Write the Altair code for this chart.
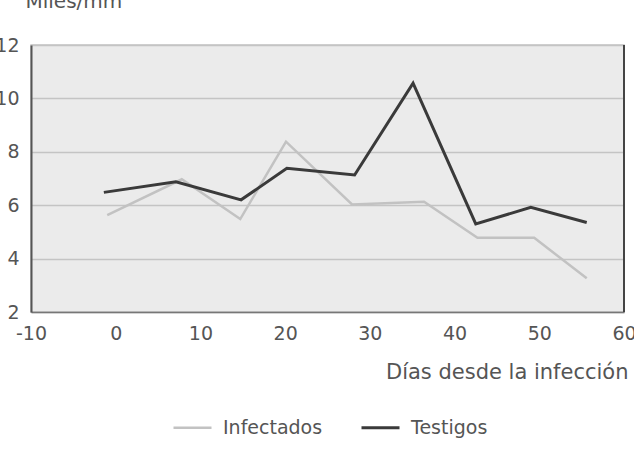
import altair as alt
import pandas as pd

series_names = ["Infectados", "Testigos"]
infectados_dias = [-1.0, 7.8, 14.7, 20.1, 27.9, 36.4, 42.7, 49.4, 55.6]
infectados_vals = [5.63, 6.97, 5.48, 8.38, 6.03, 6.13, 4.78, 4.78, 3.26]
testigos_dias = [-1.4, 7.1, 14.8, 20.2, 28.2, 35.1, 42.5, 49.0, 55.6]
testigos_vals = [6.48, 6.88, 6.20, 7.38, 7.13, 10.57, 5.30, 5.92, 5.35]
x_ticks = [-10, 0, 10, 20, 30, 40, 50, 60]
y_ticks = [2, 4, 6, 8, 10, 12]

rows = []
for d, v in zip(infectados_dias, infectados_vals):
    rows.append({"dia": d, "valor": v, "serie": series_names[0]})
for d, v in zip(testigos_dias, testigos_vals):
    rows.append({"dia": d, "valor": v, "serie": series_names[1]})
df = pd.DataFrame(rows)

FONT = "DejaVu Sans"
TXT = "#555555"

lines = alt.Chart(df).mark_line(strokeJoin="miter").encode(
    x=alt.X("dia:Q",
            scale=alt.Scale(domain=[-10, 60], nice=False, zero=False),
            axis=alt.Axis(values=x_ticks, grid=False, ticks=False,
                          domainColor="#777777", domainWidth=1.5,
                          labelExpr="'' + datum.value",
                          labelPadding=12, labelFontSize=19, labelColor=TXT,
                          labelFont=FONT, labelFlush=False,
                          title="Días desde la infección",
                          titleFont=FONT, titleFontSize=21, titleColor=TXT,
                          titleFontWeight="normal", titleAnchor="end",
                          titleAlign="right", titleBaseline="alphabetic",
                          titleX=597, titleY=66)),
    y=alt.Y("valor:Q",
            scale=alt.Scale(domain=[2, 12], nice=False, zero=False),
            axis=alt.Axis(values=y_ticks, grid=True, gridColor="#c4c4c4",
                          gridWidth=1.5, ticks=False,
                          domainColor="#555555", domainWidth=2,
                          labelPadding=12, labelFontSize=19, labelColor=TXT,
                          labelFont=FONT, labelFlush=False,
                          title="Miles/mm", titleAngle=0, titleFont=FONT,
                          titleFontSize=20, titleColor=TXT,
                          titleFontWeight="normal", titleAlign="left",
                          titleBaseline="alphabetic", titleX=-6, titleY=-38)),
    color=alt.Color("serie:N",
                    scale=alt.Scale(domain=series_names,
                                    range=["#c2c2c2", "#3a3a3a"]),
                    legend=alt.Legend(title=None, orient="none",
                                      direction="horizontal",
                                      legendX=141, legendY=362,
                                      symbolType="stroke", symbolSize=1444,
                                      symbolStrokeWidth=3,
                                      labelFont=FONT, labelFontSize=19,
                                      labelColor=TXT, labelOffset=10,
                                      columnPadding=32)),
    strokeWidth=alt.StrokeWidth("serie:N",
                                scale=alt.Scale(domain=series_names,
                                                range=[2.5, 3]),
                                legend=None),
)

right_border = alt.Chart(df).mark_rule(color="#444444", strokeWidth=2).encode(
    x=alt.datum(60)
)

chart = alt.layer(lines, right_border).properties(
    width=593, height=267,
    autosize=alt.AutoSizeParams(type="none"),
    padding={"left": 31, "top": 45, "right": 10, "bottom": 144},
    background="white",
).configure_view(
    fill="#ebebeb", stroke="#c4c4c4", strokeWidth=1.5
)

chart.save("out.html", embed_options={"renderer": "svg", "actions": False})
